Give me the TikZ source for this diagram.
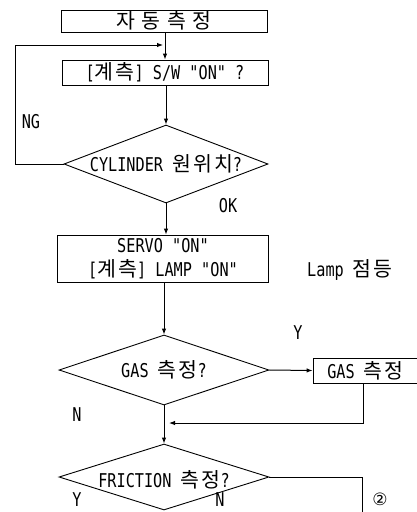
\documentclass[tikz,border=0pt]{standalone}
\usepackage{fontspec}
\setmainfont{DejaVu Sans Mono}[FakeStretch=0.8, Ligatures=TeXOff]
\newfontfamily\kr{Noto Sans CJK KR}[LetterSpace=10, Scale=1.08]
\newfontfamily\symfont{DejaVu Sans}
\usetikzlibrary{arrows.meta,shapes.geometric}
\newcommand{\K}[1]{{\kr #1}}
\begin{document}
\begin{tikzpicture}[x=1pt,y=-1pt,
  every node/.style={font=\fontsize{19}{23}\selectfont, inner sep=0pt},
  box/.style={draw, line width=0.9pt, align=center},
  dia/.style={draw, diamond, line width=0.9pt, inner sep=0pt},
  lbl/.style={font=\fontsize{19}{23}\selectfont},
  line/.style={line width=1pt},
  arr/.style={line width=1pt, -{Latex[length=6pt,width=4.5pt]}}
]
\useasboundingbox (0,0) rectangle (416,512);
% boxes
\node[box, minimum width=206, minimum height=22] (start) at (164,21) {\K{자 동 측 정}};
\node[box, minimum width=206, minimum height=25] (sw) at (165,72.5) {[\K{계측}] S/W "ON" ?};
\node[dia, minimum width=204, minimum height=78] (d1) at (166,164) {};
\node (d1t) at (d1) {CYLINDER \K{원위치}?};
\node[box, minimum width=211, minimum height=47] (servo) at (163,258.5) {SERVO "ON"\\[1pt] [\K{계측}] LAMP "ON"};
\node[lbl] (lamp) at (350,270) {Lamp \K{점등}};
\node[dia, minimum width=210, minimum height=70] (d2) at (164,370) {};
\node (d2t) at (d2) {GAS \K{측정}?};
\node[box, minimum width=105, minimum height=25] (gas) at (365.5,370.5) {GAS \K{측정}};
\node[dia, minimum width=210, minimum height=66] (d3) at (164,477) {};
\node (d3t) at ([yshift=-3pt]d3) {FRICTION \K{측정}?};
% labels
\node[lbl] (ng) at (31,122) {NG};
\node[lbl] (ok) at (228,206) {OK};
\node[lbl] (y1) at (298,333) {Y};
\node[lbl] (n1) at (77,415) {N};
\node[lbl] (y2) at (77,500) {Y};
\node[lbl] (n2) at (220,500) {N};
\node[font=\symfont\fontsize{17}{19}\selectfont] (c2) at (380,499) {②};
% coordinates
\coordinate (loopjoin) at (165,45);
\coordinate (loopL1) at (15,164);
\coordinate (loopL2) at (15,45);
\coordinate (gasdown) at (363,423);
\coordinate (gasjoin) at (166,423);
\coordinate (fr1) at (362,477);
\coordinate (fr2) at (362,515);
% connectors
\draw[arr] (start.south -| loopjoin) -- (sw.north -| loopjoin);
\draw[arr, shorten >=2pt] (d1.west) -- (loopL1) -- (loopL2) -- (loopjoin);
\draw[arr] (sw.south -| d1.north) -- (d1.north);
\draw[arr] (d1.south) -- (servo.north -| d1.south);
\draw[arr] (servo.south -| d2.north) -- (d2.north);
\draw[arr] (d2.east) -- (gas.west);
\draw[arr, shorten >=3pt] (gas.south -| gasdown) -- (gasdown) -- (gasjoin);
\draw[arr] (d2.south) -- (d3.north);
\draw[line] (d3.east) -- (fr1) -- (fr2);
\end{tikzpicture}
\end{document}
